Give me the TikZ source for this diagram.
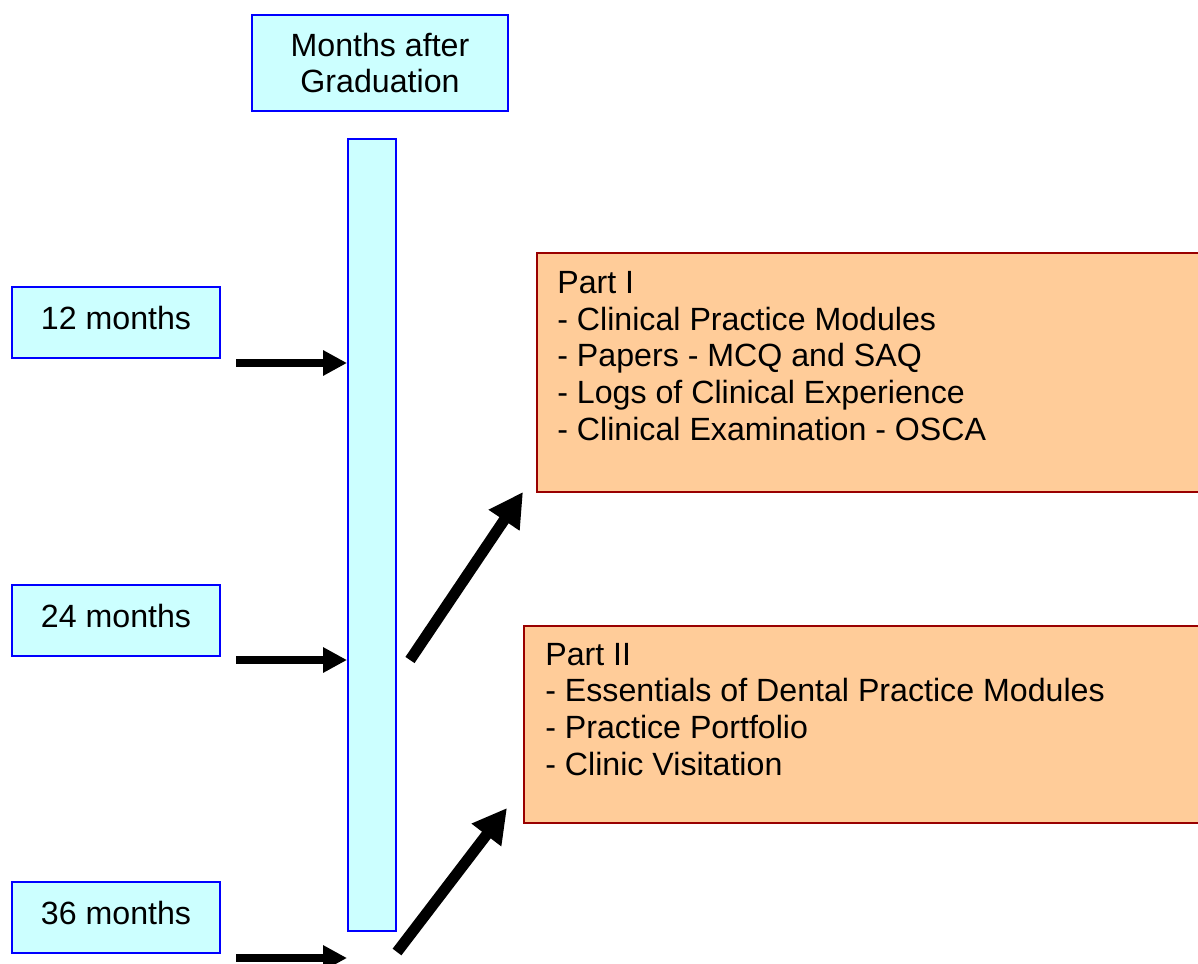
\documentclass[tikz,border=0pt]{standalone}
\usepackage{fontspec}
\setmainfont{Liberation Sans}
\usetikzlibrary{arrows.meta}

\definecolor{paleblue}{HTML}{CCFFFF}
\definecolor{peach}{HTML}{FFCC99}
\definecolor{darkred}{HTML}{990000}

\begin{document}
\begin{tikzpicture}[x=0.02cm,y=-0.02cm,
   bluebox/.style={draw=blue,fill=paleblue,line width=1.1pt,inner sep=0pt,
      align=center,font=\fontsize{18.3}{21}\selectfont},
   partbox/.style={draw=darkred,fill=peach,line width=1.1pt,inner sep=0pt},
   parttext/.style={anchor=west,align=left,inner sep=0pt,
      font=\fontsize{18.3}{21}\selectfont},
   fatarrow/.style={line width=0.16cm,-{Triangle[length=0.48cm,width=0.48cm]}},
   slantarrow/.style={line width=0.22cm,-{Triangle[length=0.68cm,width=0.7cm]}}]
   \useasboundingbox (0,0) rectangle (1198,964);
   % timeline
   \node[bluebox,minimum width=5.12cm,minimum height=1.92cm] (head) at (380,63) {Months after\\Graduation};
   \node[bluebox,minimum width=0.96cm,minimum height=15.84cm] (bar) at (372,535) {};
   \node[bluebox,text depth=0.2cm,minimum width=4.16cm,minimum height=1.42cm] (m12) at (116,322.5) {12 months};
   \node[bluebox,text depth=0.2cm,minimum width=4.16cm,minimum height=1.42cm] (m24) at (116,620.5) {24 months};
   \node[bluebox,text depth=0.2cm,minimum width=4.16cm,minimum height=1.42cm] (m36) at (116,917.5) {36 months};
   % parts
   \node[partbox,minimum width=13.46cm,minimum height=4.78cm] (part1) at (873.5,372.5) {};
   \node[parttext] (part1txt) at (557,356) {Part I\\- Clinical Practice Modules\\- Papers - MCQ and SAQ\\- Logs of Clinical Experience\\- Clinical Examination - OSCA};
   \node[partbox,minimum width=13.72cm,minimum height=3.94cm] (part2) at (867,724.5) {};
   \node[parttext] (part2txt) at (545,709.5) {Part II\\- Essentials of Dental Practice Modules\\- Practice Portfolio\\- Clinic Visitation};
   % arrows
   \coordinate (s12) at (236,363);
   \coordinate (s24) at (236,660);
   \coordinate (s36) at (236,958);
   \coordinate (d1) at (410,660);
   \coordinate (t1) at (523,492);
   \coordinate (d2) at (397,952);
   \coordinate (t2) at (507,808);
   \draw[fatarrow] (s12) -- (s12 -| bar.west);
   \draw[fatarrow] (s24) -- (s24 -| bar.west);
   \draw[fatarrow] (s36) -- (s36 -| bar.west);
   \draw[slantarrow] (d1) -- (t1);
   \draw[slantarrow] (d2) -- (t2);
\end{tikzpicture}
\end{document}
